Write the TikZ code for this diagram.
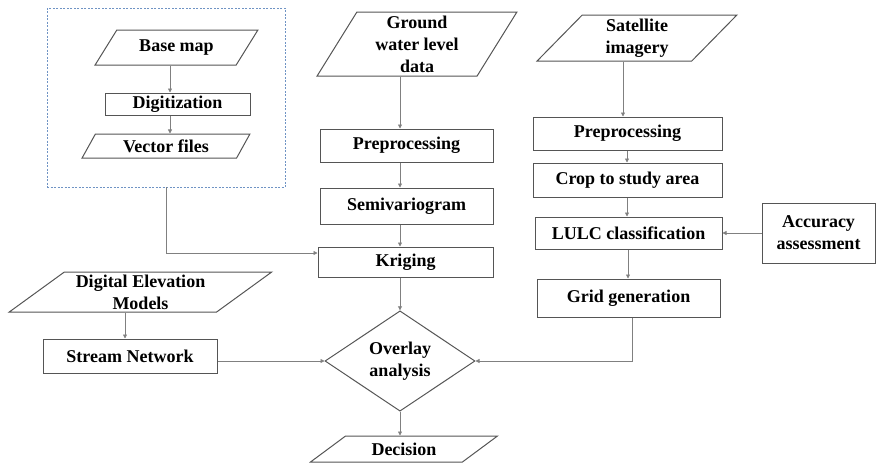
\documentclass[tikz,border=0pt]{standalone}
\usepackage{fontspec}
\setmainfont{Liberation Serif}
\usepackage{tikz}
\usetikzlibrary{positioning, arrows.meta, shapes.geometric, calc}

\definecolor{boxline}{HTML}{555555}
\definecolor{arrowline}{HTML}{808080}
\definecolor{dashblue}{HTML}{6F93C4}

\begin{document}
\begin{tikzpicture}[
    x=1pt, y=-1pt,
    every node/.style={font=\bfseries\fontsize{18}{22}\selectfont, text=black},
    procbox/.style={rectangle, draw=boxline, line width=1pt, inner sep=0pt, align=center},
    databox/.style={trapezium, draw=boxline, line width=1pt, inner sep=0pt, align=center,
                    trapezium stretches=true},
    decbox/.style={diamond, draw=boxline, line width=1pt, inner sep=0pt, align=center,
                   minimum width=150pt, minimum height=96pt},
    groupbox/.style={rectangle, draw=dashblue, line width=0.8pt, dash pattern=on 2pt off 1.5pt},
    arrow/.style={-{Triangle[length=4pt, width=4pt]}, line width=0.7pt, draw=arrowline}
]
    \useasboundingbox (0,0) rectangle (876,463);

    % === Base map group ===
    \node[groupbox, minimum width=238pt, minimum height=179pt] (maps) at (166,97.5) {};
    \node[databox, trapezium left angle=49, trapezium right angle=131,
          minimum width=163pt, minimum height=35pt] (basemap) at (176.5,47.5) {Base map};
    \node[procbox, minimum width=145pt, minimum height=22pt] (digit) at (177.5,104) {Digitization};
    \node[databox, trapezium left angle=58, trapezium right angle=122,
          minimum width=168pt, minimum height=24pt] (vector) at (166,146) {Vector files};

    \draw[arrow] (basemap.south -| 170,0) -- (digit.north -| 170,0);
    \draw[arrow] (digit.south -| 170,0) -- (vector.north -| 170,0);

    % === Ground water column ===
    \node[databox, trapezium left angle=64, trapezium right angle=116,
          minimum width=200pt, minimum height=64pt] (gwl) at (417,44) {Ground\\water level\\data};
    \node[procbox, minimum width=173pt, minimum height=33pt] (prep1) at (406.5,145.5) {Preprocessing};
    \node[procbox, minimum width=173pt, minimum height=36pt] (semi) at (406.5,206) {Semivariogram};
    \node[procbox, minimum width=175pt, minimum height=30pt] (krig) at (405.5,262) {Kriging};

    % === Overlay and decision ===
    \node[decbox] (overlay) at (400,361) {Overlay\\analysis};
    \node[databox, trapezium left angle=33, trapezium right angle=147,
          minimum width=187pt, minimum height=26pt] (decision) at (404,449) {Decision};

    \draw[arrow] (gwl.south -| overlay.north) -- (prep1.north -| overlay.north);
    \draw[arrow] (prep1.south -| overlay.north) -- (semi.north -| overlay.north);
    \draw[arrow] (semi.south -| overlay.north) -- (krig.north -| overlay.north);
    \draw[arrow] (krig.south -| overlay.north) -- (overlay.north);
    \draw[arrow] (overlay.south) -- (decision.north -| overlay.south);
    \draw[arrow] (maps.south) |- ([yshift=9pt]krig.west);

    % === Elevation ===
    \node[databox, trapezium left angle=36.5, trapezium right angle=143.5,
          minimum width=263pt, minimum height=40pt] (dem) at (140.5,292) {Digital Elevation\\Models};
    \node[procbox, minimum width=174pt, minimum height=34pt] (stream) at (130,356) {Stream Network};

    \draw[arrow] (dem.south -| 125,0) -- (stream.north -| 125,0);
    \draw[arrow] (stream.east |- overlay.west) -- (overlay.west);

    % === Satellite column ===
    \node[databox, trapezium left angle=56, trapezium right angle=124,
          minimum width=200pt, minimum height=46pt] (sat) at (637,38) {Satellite\\imagery};
    \node[procbox, minimum width=189pt, minimum height=33pt] (prep2) at (627.5,133.5) {Preprocessing};
    \node[procbox, minimum width=189pt, minimum height=34pt] (crop) at (627.5,180) {Crop to study area};
    \node[procbox, minimum width=187pt, minimum height=32pt] (lulc) at (628.5,233) {LULC classification};
    \node[procbox, minimum width=183pt, minimum height=38pt] (grid) at (628.5,298) {Grid generation};
    \node[procbox, minimum width=113pt, minimum height=60pt] (acc) at (818.5,233) {Accuracy\\assessment};

    \draw[arrow] (sat.south -| 623,0) -- (prep2.north -| 623,0);
    \draw[arrow] (prep2.south -| 627,0) -- (crop.north -| 627,0);
    \draw[arrow] (crop.south -| 627,0) -- (lulc.north -| 627,0);
    \draw[arrow] (lulc.south -| 628,0) -- (grid.north -| 628,0);
    \draw[arrow] (acc.west) -- (lulc.east);
    \draw[arrow] (grid.south -| 632,0) |- (overlay.east);

\end{tikzpicture}
\end{document}
